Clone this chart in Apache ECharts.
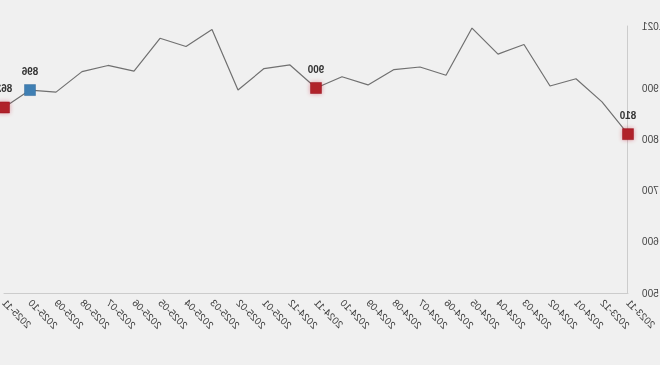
<!DOCTYPE html>
<html>
<head>
<meta charset="utf-8">
<script src="https://cdn.jsdelivr.net/npm/echarts@6/dist/echarts.min.js"></script>
<style>
  html, body { margin: 0; padding: 0; background: #f0f0f0; }
  #chart { width: 660px; height: 365px; transform: scaleX(-1); }
</style>
</head>
<body>
<div id="chart"></div>
<script>
const categories = ['2023-11','2023-12','2024-01','2024-02','2024-03','2024-04','2024-05','2024-06','2024-07','2024-08','2024-09','2024-10','2024-11','2024-12','2025-01','2025-02','2025-03','2025-04','2025-05','2025-06','2025-07','2025-08','2025-09','2025-10','2025-11'];
const values = [810, 873, 918, 904, 985, 966, 1017, 925, 941, 936, 906, 922, 900, 945, 938, 896, 1014, 981, 997, 933, 944, 932, 892, 896, 862];
const redMonths = ['2023-11', '2024-11', '2025-11'];
const blueMonths = ['2025-10'];
const yTicks = [500, 600, 700, 800, 900];
const yMin = 500, yMax = 1021;

const seriesData = values.map((v, i) => {
  const c = categories[i];
  if (redMonths.includes(c) || blueMonths.includes(c)) {
    const isRed = redMonths.includes(c);
    return {
      value: v,
      symbol: 'rect',
      symbolSize: 11,
      itemStyle: {
        color: isRed ? '#b0202a' : '#3f7fb3',
        borderColor: isRed ? '#9a1820' : '#356d9c',
        borderWidth: 0.5,
        shadowBlur: isRed ? 4 : 0,
        shadowColor: 'rgba(200,40,50,0.45)'
      },
      label: { show: true }
    };
  }
  return { value: v, symbolSize: 0 };
});

const chart = echarts.init(document.getElementById('chart'), null, { renderer: 'svg' });
chart.setOption({
  backgroundColor: '#f0f0f0',
  animation: false,
  grid: { left: 32, right: 4, top: 26, bottom: 72, containLabel: false, outerBoundsMode: 'none' },
  xAxis: {
    type: 'category',
    data: categories,
    boundaryGap: false,
    axisLine: { show: true, lineStyle: { color: '#cccccc', width: 1 } },
    axisTick: { show: false },
    splitLine: { show: false },
    axisLabel: { rotate: 45, interval: 0, fontSize: 10, color: '#3a3a3a', margin: 8, fontFamily: 'Liberation Sans, Arial, sans-serif' }
  },
  yAxis: {
    type: 'value',
    min: yMin,
    max: yMax,
    interval: 100,
    axisLine: { show: true, lineStyle: { color: '#cccccc', width: 1 } },
    axisTick: { show: false },
    splitLine: { show: false },
    axisLabel: {
      fontSize: 10, color: '#444', margin: 14, fontFamily: 'Liberation Sans, Arial, sans-serif',
      formatter: v => (yTicks.includes(v) || v === yMax) ? String(v) : ''
    }
  },
  series: [{
    type: 'line',
    data: seriesData,
    symbol: 'rect',
    showSymbol: true,
    lineStyle: { color: '#707070', width: 1.2 },
    itemStyle: { color: '#707070' },
    label: { show: false, position: 'top', distance: 8, fontSize: 10, fontWeight: 'bold', color: '#333', fontFamily: 'Liberation Sans, Arial, sans-serif' },
    emphasis: { disabled: true }
  }]
});
</script>
</body>
</html>
